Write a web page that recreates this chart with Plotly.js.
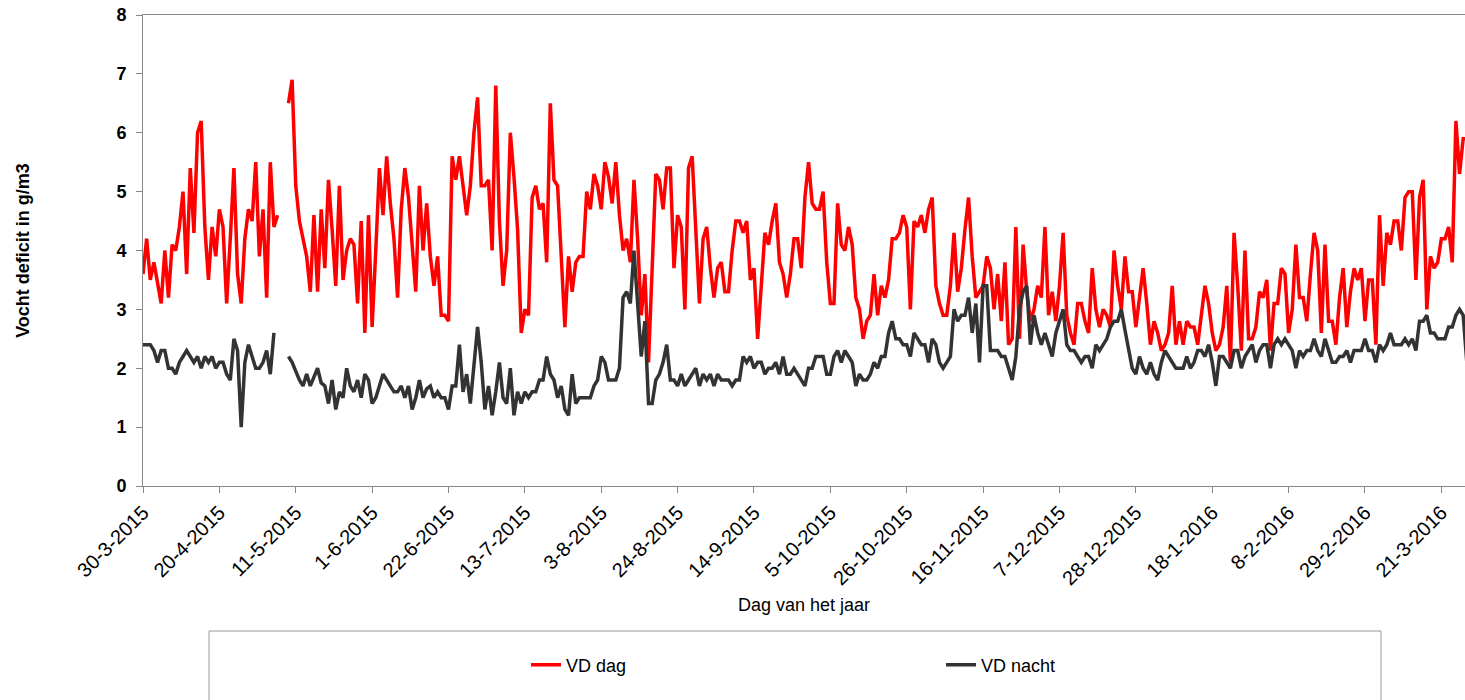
<!DOCTYPE html>
<html>
<head>
<meta charset="utf-8">
<script src="https://cdn.plot.ly/plotly-3.0.1.min.js"></script>
<style>
html,body{margin:0;padding:0;background:#fff;}
#chart{width:1465px;height:700px;}
</style>
</head>
<body>
<div id="chart"></div>
<script>
// Daily series, first day 30-3-2015 (one value per day, null = no measurement)
var startDate = '2015-03-30';
var seriesNames = ['VD dag', 'VD nacht'];

var vdDag = [
3.6,4.2,3.5,3.8,3.45,3.1,4.0,3.2,4.1,4.0,4.4,5.0,3.6,5.4,4.3,6.0,6.2,4.4,3.5,4.4,
3.9,4.7,4.4,3.1,4.2,5.4,3.6,3.1,4.2,4.7,4.5,5.5,3.9,4.7,3.2,5.5,4.4,4.6,null,null,
6.5,6.9,5.1,4.5,4.2,3.9,3.3,4.6,3.3,4.7,3.7,5.2,4.35,3.4,5.1,3.5,4.0,4.2,4.1,3.1,
4.5,2.6,4.6,2.7,4.0,5.4,4.6,5.6,4.8,4.2,3.2,4.7,5.4,4.9,4.1,3.3,5.1,4.0,4.8,3.9,
3.4,3.9,2.9,2.9,2.8,5.6,5.2,5.6,5.1,4.6,5.1,6.0,6.6,5.1,5.1,5.2,4.0,6.8,4.5,3.4,
4.0,6.0,5.25,4.35,2.6,3.0,2.9,4.9,5.1,4.7,4.8,3.8,6.5,5.2,5.1,3.9,2.7,3.9,3.3,3.8,
3.9,3.9,5.0,4.7,5.3,5.1,4.7,5.5,5.25,4.8,5.5,4.6,4.0,4.2,3.8,5.2,4.2,2.9,3.6,2.1,
3.7,5.3,5.2,4.7,5.4,5.4,3.7,4.6,4.4,3.0,5.4,5.6,4.35,3.1,4.2,4.4,3.7,3.2,3.7,3.8,
3.3,3.3,4.0,4.5,4.5,4.3,4.5,3.5,3.7,2.5,3.4,4.3,4.1,4.5,4.8,3.8,3.6,3.2,3.6,4.2,
4.2,3.7,4.9,5.5,4.8,4.7,4.7,5.0,3.8,3.1,3.1,4.8,4.1,4.0,4.4,4.1,3.2,3.0,2.5,2.8,
2.9,3.6,2.9,3.4,3.2,3.5,4.2,4.2,4.3,4.6,4.4,3.0,4.5,4.4,4.6,4.3,4.7,4.9,3.4,3.1,
2.9,2.9,3.4,4.3,3.3,3.7,4.35,4.9,3.9,3.2,3.3,3.4,3.9,3.7,3.0,3.6,2.8,3.8,2.4,2.5,
4.4,2.5,4.1,3.3,2.8,3.0,3.4,3.2,4.4,2.9,3.3,2.8,3.4,4.3,2.9,2.6,2.4,3.1,3.1,2.8,
2.6,3.7,3.0,2.7,3.0,2.9,2.7,4.0,3.4,3.0,3.9,3.3,3.3,2.7,3.2,3.7,3.1,2.4,2.8,2.6,
2.3,2.4,2.6,3.4,2.4,2.8,2.4,2.8,2.7,2.7,2.4,2.9,3.4,3.1,2.6,2.3,2.4,2.7,3.4,2.1,
4.3,3.4,2.3,4.0,2.5,2.5,2.7,3.3,3.2,3.5,2.3,3.1,3.1,3.7,3.6,2.6,3.0,4.1,3.2,3.2,
2.8,3.6,4.3,4.0,2.6,4.1,2.8,2.8,2.4,3.2,3.7,2.7,3.3,3.7,3.5,3.7,2.8,3.5,3.5,2.4,
4.6,3.4,4.3,4.1,4.5,4.5,4.0,4.9,5.0,5.0,3.5,4.9,5.2,3.0,3.9,3.7,3.8,4.2,4.2,4.4,
3.8,6.2,5.3,5.9,5.9
];

var vdNacht = [
2.4,2.4,2.4,2.3,2.1,2.3,2.3,2.0,2.0,1.9,2.1,2.2,2.3,2.2,2.1,2.2,2.0,2.2,2.1,2.2,
2.0,2.1,2.1,1.9,1.8,2.5,2.3,1.0,2.1,2.4,2.2,2.0,2.0,2.1,2.3,1.9,2.6,null,null,null,
2.2,2.1,1.95,1.8,1.7,1.9,1.7,1.85,2.0,1.75,1.7,1.4,1.8,1.3,1.6,1.5,2.0,1.7,1.6,1.8,
1.5,1.9,1.8,1.4,1.5,1.7,1.9,1.8,1.7,1.6,1.6,1.7,1.5,1.7,1.3,1.5,1.8,1.5,1.65,1.7,
1.5,1.6,1.5,1.5,1.3,1.7,1.7,2.4,1.6,1.9,1.4,2.0,2.7,2.1,1.3,1.7,1.2,1.6,2.1,1.5,
1.4,2.0,1.2,1.6,1.4,1.6,1.5,1.6,1.6,1.8,1.8,2.2,1.9,1.8,1.5,1.7,1.3,1.2,1.9,1.4,
1.5,1.5,1.5,1.5,1.7,1.8,2.2,2.1,1.8,1.8,1.8,2.0,3.2,3.3,3.1,4.0,3.1,2.2,2.8,1.4,
1.4,1.8,1.9,2.1,2.4,1.8,1.8,1.7,1.9,1.7,1.8,1.9,2.0,1.7,1.9,1.8,1.9,1.7,1.9,1.8,
1.8,1.8,1.7,1.8,1.8,2.2,2.1,2.2,2.0,2.1,2.1,1.9,2.0,2.0,2.1,1.9,2.2,1.9,1.9,2.0,
1.9,1.8,1.7,2.0,2.0,2.2,2.2,2.2,1.9,1.9,2.2,2.3,2.1,2.3,2.2,2.1,1.7,1.9,1.8,1.8,
1.9,2.1,2.0,2.2,2.2,2.6,2.8,2.5,2.5,2.4,2.4,2.2,2.6,2.5,2.4,2.4,2.1,2.5,2.4,2.1,
2.0,2.1,2.2,3.0,2.8,2.9,2.9,3.2,2.6,3.1,2.1,3.4,3.4,2.3,2.3,2.3,2.2,2.2,2.0,1.8,
2.2,3.0,3.3,3.4,2.4,2.9,2.6,2.4,2.6,2.4,2.2,2.6,2.8,3.0,2.4,2.3,2.3,2.2,2.1,2.2,
2.2,2.0,2.4,2.3,2.4,2.5,2.7,2.8,2.8,3.0,2.65,2.3,2.0,1.9,2.2,2.0,1.9,2.1,1.9,1.8,
2.1,2.3,2.2,2.1,2.0,2.0,2.0,2.2,2.0,2.1,2.3,2.3,2.2,2.4,2.1,1.7,2.2,2.2,2.1,2.0,
2.3,2.3,2.0,2.2,2.3,2.4,2.1,2.3,2.4,2.4,2.0,2.4,2.5,2.4,2.5,2.4,2.3,2.0,2.3,2.2,
2.3,2.3,2.5,2.3,2.2,2.5,2.3,2.1,2.1,2.2,2.2,2.3,2.1,2.3,2.3,2.3,2.5,2.3,2.3,2.1,
2.4,2.3,2.4,2.6,2.4,2.4,2.4,2.5,2.4,2.5,2.3,2.8,2.8,2.9,2.6,2.6,2.5,2.5,2.5,2.7,
2.7,2.9,3.0,2.9,2.1
];

var tickDates = ['2015-03-30','2015-04-20','2015-05-11','2015-06-01','2015-06-22','2015-07-13',
  '2015-08-03','2015-08-24','2015-09-14','2015-10-05','2015-10-26','2015-11-16','2015-12-07',
  '2015-12-28','2016-01-18','2016-02-08','2016-02-29','2016-03-21'];
var tickLabels = ['30-3-2015','20-4-2015','11-5-2015','1-6-2015','22-6-2015','13-7-2015',
  '3-8-2015','24-8-2015','14-9-2015','5-10-2015','26-10-2015','16-11-2015','7-12-2015',
  '28-12-2015','18-1-2016','8-2-2016','29-2-2016','21-3-2016'];
var yTicks = [0,1,2,3,4,5,6,7,8];

var FONT = 'Arial, "Liberation Sans", sans-serif';
var DAY = 86400000;

var traces = [
  {type:'scatter', mode:'lines', name:seriesNames[0], x0:startDate, dx:DAY, y:vdDag,
   line:{color:'#FF0000', width:3.5}, legend:'legend', connectgaps:false},
  {type:'scatter', mode:'lines', name:seriesNames[1], x0:startDate, dx:DAY, y:vdNacht,
   line:{color:'#333333', width:3.5}, legend:'legend2', connectgaps:false}
];

var layout = {
  width:1465, height:700,
  margin:{l:143, r:0, t:15, b:214},
  paper_bgcolor:'#ffffff', plot_bgcolor:'#ffffff',
  font:{family:FONT, color:'#000'},
  xaxis:{
    type:'date',
    range:['2015-03-30', '2016-03-27 12:00'],
    tickvals:tickDates, ticktext:tickLabels,
    tickangle:-45,
    tickfont:{size:20, family:FONT, color:'#000'},
    ticks:'outside', ticklen:6, tickcolor:'#888', tickwidth:1,
    showline:true, linecolor:'#888', linewidth:1, mirror:true,
    showgrid:false, zeroline:false,
    title:{text:'Dag van het jaar', font:{size:18, family:FONT, color:'#000'}, standoff:10}
  },
  yaxis:{
    range:[0,8], tickvals:yTicks,
    tickfont:{size:18, family:FONT, color:'#000', weight:'bold'},
    ticks:'outside', ticklen:6, tickcolor:'#888', tickwidth:1,
    showline:true, linecolor:'#888', linewidth:1, mirror:true,
    showgrid:false, zeroline:false,
    ticklabelstandoff:6,
    title:{text:'Vocht deficit in g/m3', font:{size:18, family:FONT, color:'#000', weight:'bold'}, standoff:82}
  },
  showlegend:true,
  legend:{orientation:'h', x:(526-143)/1322, xanchor:'left', y:(486-665)/471, yanchor:'middle',
    bgcolor:'rgba(0,0,0,0)', borderwidth:0, font:{size:18, family:FONT, color:'#000'}},
  legend2:{orientation:'h', x:(941-143)/1322, xanchor:'left', y:(486-665)/471, yanchor:'middle',
    bgcolor:'rgba(0,0,0,0)', borderwidth:0, font:{size:18, family:FONT, color:'#000'}},
  shapes:[{type:'rect', xref:'paper', yref:'paper',
    x0:(209-143)/1322, x1:(1381-143)/1322, y0:(486-631)/471, y1:(486-720)/471,
    line:{color:'#999', width:1}, fillcolor:'rgba(0,0,0,0)', layer:'below'}]
};

Plotly.newPlot('chart', traces, layout, {displayModeBar:false, staticPlot:true});
</script>
</body>
</html>
